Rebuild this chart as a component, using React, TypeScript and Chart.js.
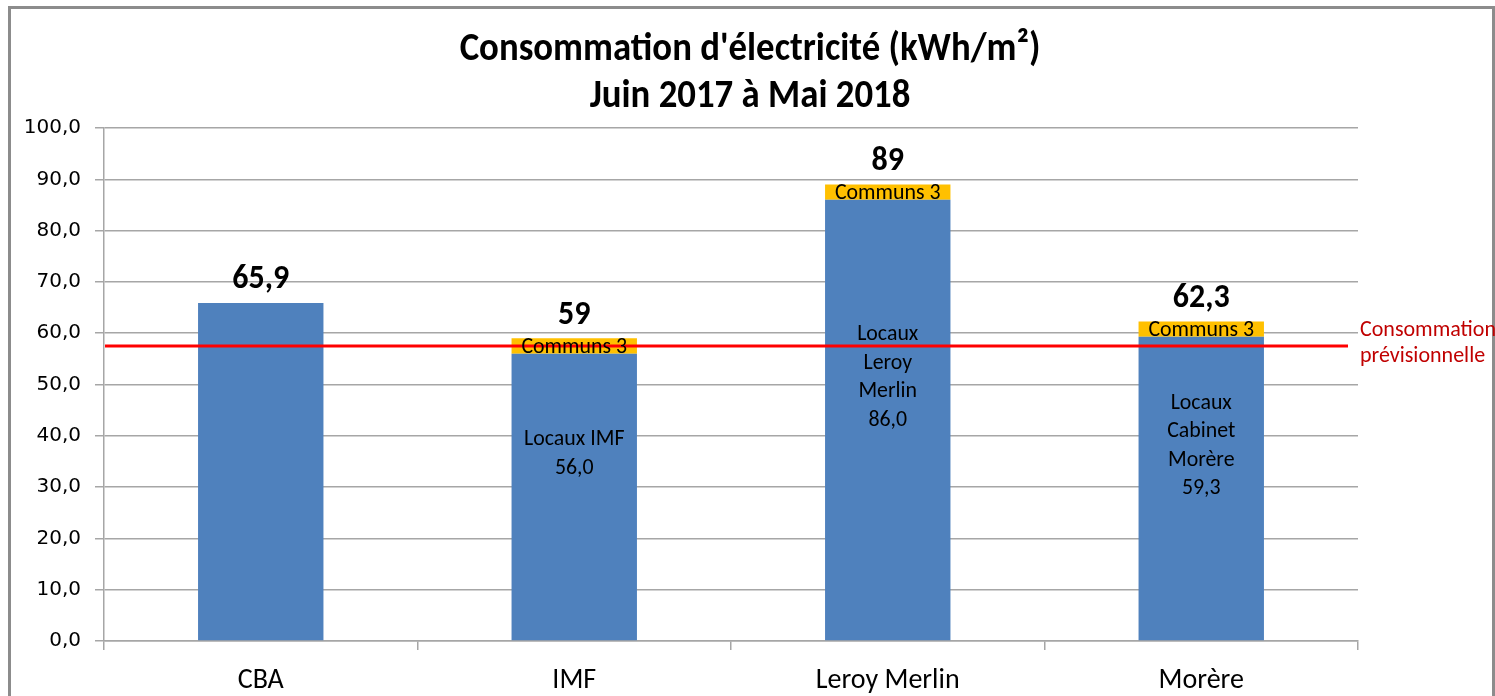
import React, { useEffect, useRef } from "react";
import { Chart, registerables } from "chart.js";

Chart.register(...registerables);

const categories = ["CBA", "IMF", "Leroy Merlin", "Morère"];
const localValues = [65.9, 56.0, 86.0, 59.3];
const communsValues = [null, 3, 3, 3];
const totalLabels = ["65,9", "59", "89", "62,3"];
const localLabels = [[], ["Locaux IMF", "56,0"], ["Locaux", "Leroy", "Merlin", "86,0"], ["Locaux", "Cabinet", "Morère", "59,3"]];
const communsLabels = ["", "Communs 3", "Communs 3", "Communs 3"];
const forecastValue = 57.5;
const forecastLabel = ["Consommation", "prévisionnelle"];
const titleLines = ["Consommation d'électricité (kWh/m²)", "Juin 2017 à Mai 2018"];
const yMin = 0;
const yMax = 100;
const yStep = 10;

const FONT = "Carlito, Calibri, 'Open Sans', sans-serif";

function drawScaled(ctx: any, text: string, x: number, y: number, sx: number) {
  ctx.save();
  ctx.translate(x, y);
  ctx.scale(sx, 1);
  ctx.fillText(text, 0, 0);
  ctx.restore();
}

const overlayPlugin = {
  id: "overlay",
  beforeDraw(chart: any) {
    const ctx = chart.ctx;
    ctx.save();
    ctx.fillStyle = "#ffffff";
    ctx.fillRect(0, 0, chart.width, chart.height);
    ctx.strokeStyle = "#8c8c8c";
    ctx.lineWidth = 3;
    ctx.strokeRect(9.5, 7.5, 1484, 720);
    ctx.restore();
  },
  afterDatasetsDraw(chart: any) {
    const ctx = chart.ctx;
    const area = chart.chartArea;
    const y = chart.scales.y;
    const m0 = chart.getDatasetMeta(0);
    const m1 = chart.getDatasetMeta(1);
    ctx.save();
    // forecast line
    const fy = y.getPixelForValue(forecastValue);
    ctx.strokeStyle = "#ff0000";
    ctx.lineWidth = 3;
    ctx.beginPath();
    ctx.moveTo(area.left + 1, fy);
    ctx.lineTo(area.right - 10, fy);
    ctx.stroke();

    ctx.textAlign = "center";
    ctx.textBaseline = "middle";
    ctx.fillStyle = "#000000";
    // blue segment labels
    ctx.font = `23px ${FONT}`;
    localLabels.forEach((lines, i) => {
      const bar = m0.data[i];
      if (!bar || !lines.length) return;
      const cy = (bar.y + bar.base) / 2 - 43;
      const lh = 28.5;
      lines.forEach((t, k) => {
        drawScaled(ctx, t, bar.x, cy + (k - (lines.length - 1) / 2) * lh, 0.95);
      });
    });
    // communs labels
    communsLabels.forEach((t, i) => {
      const bar = m1.data[i];
      if (!bar || !t || communsValues[i] == null) return;
      drawScaled(ctx, t, bar.x, (bar.y + bar.base) / 2 + 1, 0.95);
    });
    // totals
    ctx.font = `bold 34px ${FONT}`;
    totalLabels.forEach((t, i) => {
      const top = communsValues[i] != null ? m1.data[i].y : m0.data[i].y;
      drawScaled(ctx, t, m0.data[i].x, top - 23, 0.94);
    });
    // forecast label
    ctx.fillStyle = "#c00000";
    ctx.textAlign = "left";
    ctx.font = `22px ${FONT}`;
    forecastLabel.forEach((t, k) => {
      ctx.fillText(t, area.right + 2, fy - 16 + k * 26);
    });
    // title
    ctx.fillStyle = "#000000";
    ctx.textAlign = "center";
    ctx.font = `bold 40px ${FONT}`;
    titleLines.forEach((t, k) => {
      drawScaled(ctx, t, 750, 50 + k * 47, 0.92);
    });
    ctx.restore();
  },
};

export default function App() {
  const ref = useRef<HTMLCanvasElement | null>(null);
  useEffect(() => {
    document.body.style.margin = "0";
    const canvas = ref.current!;
    const chart = new Chart(canvas, {
      type: "bar",
      data: {
        labels: categories,
        datasets: [
          {
            label: "Locaux",
            data: localValues,
            backgroundColor: "#4f81bd",
            barPercentage: 0.4,
            categoryPercentage: 1,
          },
          {
            label: "Communs",
            data: communsValues as any,
            backgroundColor: "#ffc000",
            barPercentage: 0.4,
            categoryPercentage: 1,
          },
        ],
      },
      options: {
        animation: false,
        responsive: false,
        maintainAspectRatio: false,
        layout: { padding: { top: 128, right: 137, left: 0, bottom: 0 } },
        plugins: { legend: { display: false }, tooltip: { enabled: false }, title: { display: false } },
        scales: {
          x: {
            stacked: true,
            grid: { offset: true, drawOnChartArea: false, tickLength: 9, color: "#a6a6a6", lineWidth: 1.5 },
            border: { color: "#a6a6a6", width: 1.5 },
            ticks: { color: "#000000", font: { family: FONT, size: 28 }, padding: 14 },
            afterFit(scale: any) {
              scale.height = 55;
            },
          },
          y: {
            stacked: true,
            min: yMin,
            max: yMax,
            ticks: {
              stepSize: yStep,
              color: "#000000",
              font: { family: "'DejaVu Sans', sans-serif", size: 20 },
              padding: 14,
              callback: (v: any) => Number(v).toFixed(1).replace(".", ","),
            },
            grid: { color: "#a6a6a6", lineWidth: 1.5, tickLength: 9 },
            border: { color: "#a6a6a6", width: 1.5 },
            afterFit(scale: any) {
              scale.width = 104;
            },
          },
        },
      },
      plugins: [overlayPlugin],
    });
    return () => chart.destroy();
  }, []);
  return (
    <div style={{ width: 1495, height: 696 }}>
      <canvas ref={ref} width={1495} height={696} style={{ display: "block" }} />
    </div>
  );
}
